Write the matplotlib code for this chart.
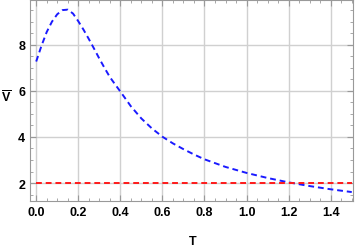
import numpy as np
import matplotlib.pyplot as plt

plt.rcParams['font.family'] = ['Liberation Sans', 'DejaVu Sans']
plt.rcParams['mathtext.fontset'] = 'custom'
plt.rcParams['mathtext.bf'] = 'Liberation Sans:bold'

# values
T = [0.0, 0.025, 0.05, 0.075, 0.1, 0.125, 0.15, 0.175, 0.2, 0.225, 0.25, 0.275, 0.3,
     0.325, 0.35, 0.375, 0.4, 0.45, 0.5, 0.55, 0.6, 0.65, 0.7, 0.75, 0.8, 0.9, 1.0,
     1.1, 1.2, 1.3, 1.4, 1.5]
V = [7.27, 7.95, 8.55, 9.0, 9.32, 9.5, 9.52, 9.35, 9.02, 8.65, 8.25, 7.83, 7.4,
     6.99, 6.6, 6.28, 5.97, 5.33, 4.8, 4.37, 4.01, 3.72, 3.47, 3.24, 3.03, 2.7, 2.44,
     2.22, 2.03, 1.87, 1.73, 1.61]
T_ref = [0.0, 1.5]
V_ref = [2.0, 2.0]

fig = plt.figure(figsize=(3.6, 2.51), dpi=100)
ax = fig.add_axes([0.083, 0.195, 0.897, 0.803])

ax.plot(T, V, color='#1a1aff', lw=1.4, ls=(0, (3, 2)))
ax.plot(T_ref, V_ref, color='#ff1a1a', lw=1.4, ls=(0, (3, 2)))

ax.set_xlim(-0.03, 1.505)
ax.set_ylim(1.22, 9.96)
ax.set_xticks(np.arange(0, 1.51, 0.2))
ax.set_xticks(np.arange(0, 1.51, 0.05), minor=True)
ax.set_yticks([2, 4, 6, 8])
ax.set_yticks(np.arange(1.5, 9.9, 0.5), minor=True)
ax.set_xticklabels(['%.1f' % t for t in np.arange(0, 1.51, 0.2)])
ax.grid(True, color='#d0d0d0', lw=1)
ax.set_axisbelow(True)

ax.tick_params(which='both', direction='in', top=True, right=True, color='#999999',
               labelsize=9)
ax.tick_params(which='major', length=4)
ax.tick_params(which='minor', length=2)
for lab in ax.get_xticklabels() + ax.get_yticklabels():
    lab.set_fontweight('bold')
for s in ax.spines.values():
    s.set_color('#999999')

fig.text(0.536, 0.035, 'T', fontsize=9, fontweight='bold', ha='center', va='center')
fig.text(0.017, 0.61, r'$\mathbf{\overline{V}}$', fontsize=9, ha='center', va='center')

plt.savefig('out.png', dpi=100)
